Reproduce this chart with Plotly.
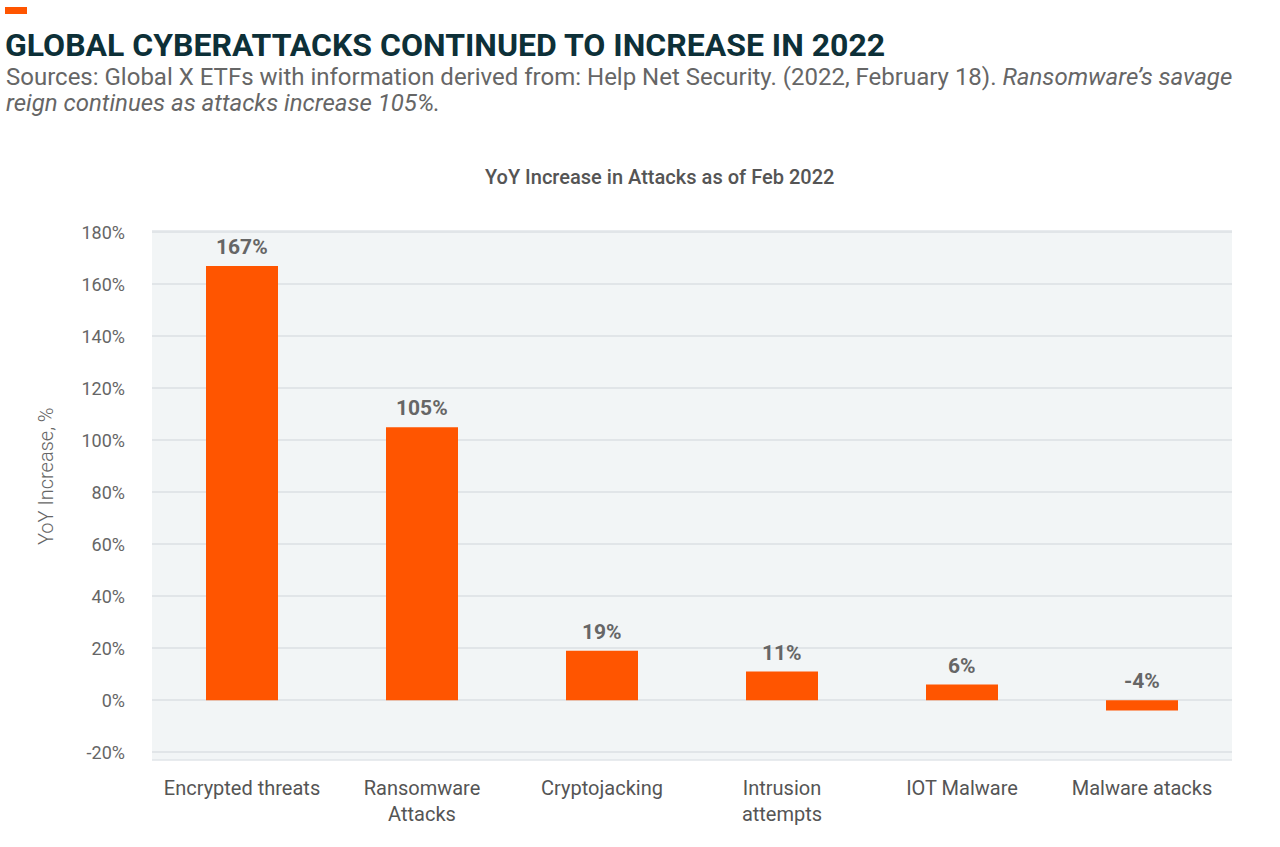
import plotly.graph_objects as go

categories = ["Encrypted threats", "Ransomware<br>Attacks", "Cryptojacking",
              "Intrusion<br>attempts", "IOT Malware", "Malware atacks"]
values = [167, 105, 19, 11, 6, -4]
tick_vals = [-20, 0, 20, 40, 60, 80, 100, 120, 140, 160, 180]
tick_text = [f"{v}%" for v in tick_vals]

ORANGE = "#FF5500"
GRAY = "#666666"
FONT = "Roboto, 'Open Sans', sans-serif"

W, H = 1280, 847
L, R, T, B = 152, 48, 231, 87
PW, PH = W - L - R, H - T - B


def px(x):
    return (x - L) / PW


def py(y):
    return (H - B - y) / PH


fig = go.Figure()
fig.add_trace(go.Bar(
    x=categories, y=values, marker=dict(color=ORANGE, line=dict(width=0)),
    width=0.4, hoverinfo="skip",
))

for c, v in zip(categories, values):
    fig.add_annotation(x=c, y=max(v, 0), text=f"<b>{v}%</b>", showarrow=False,
                       yanchor="bottom", yshift=5, xref="x", yref="y",
                       font=dict(family=FONT, size=21, color=GRAY))

fig.update_layout(
    width=W, height=H,
    paper_bgcolor="white", plot_bgcolor="#F2F5F6",
    margin=dict(l=L, r=R, t=T, b=B, autoexpand=False),
    showlegend=False,
    font=dict(family=FONT, color=GRAY),
    xaxis=dict(showgrid=False, ticks="", tickfont=dict(size=20, color="#555555"),
               showline=False, zeroline=False, ticklabelstandoff=14),
    yaxis=dict(range=[-23, 180.5], tickvals=tick_vals, ticktext=tick_text,
               tickfont=dict(size=18, color=GRAY), showgrid=True,
               gridcolor="#E1E5E8", gridwidth=1.5, zeroline=True,
               zerolinecolor="#E1E5E8", zerolinewidth=2, ticks="", ticklen=0,
               ticklabelstandoff=26),
)

# plot border lines top/bottom
fig.add_shape(type="line", xref="paper", yref="paper", x0=0, x1=1, y0=1, y1=1,
              line=dict(color="#E1E5E8", width=1.5))
fig.add_shape(type="line", xref="paper", yref="paper", x0=0, x1=1, y0=0, y1=0,
              line=dict(color="#E1E5E8", width=1.5))

# orange marker
fig.add_shape(type="rect", xref="paper", yref="paper",
              x0=px(5), x1=px(27), y0=py(14), y1=py(7),
              fillcolor=ORANGE, line=dict(width=0))

fig.add_annotation(xref="paper", yref="paper", x=px(3), y=py(45),
                   xanchor="left", yanchor="middle", showarrow=False,
                   text="<b>GLOBAL CYBERATTACKS CONTINUED TO INCREASE IN 2022</b>",
                   font=dict(family=FONT, size=32, color="#0D3038"))
fig.add_annotation(xref="paper", yref="paper", x=px(4), y=py(77),
                   xanchor="left", yanchor="middle", showarrow=False, align="left",
                   text="Sources: Global X ETFs with information derived from: Help Net Security. (2022, February 18). <i>Ransomware’s savage</i>",
                   font=dict(family=FONT, size=24, color=GRAY))
fig.add_annotation(xref="paper", yref="paper", x=px(4), y=py(103),
                   xanchor="left", yanchor="middle", showarrow=False, align="left",
                   text="<i>reign continues as attacks increase 105%.</i>",
                   font=dict(family=FONT, size=24, color=GRAY))
fig.add_annotation(xref="paper", yref="paper", x=px(659), y=py(177),
                   xanchor="center", yanchor="middle", showarrow=False,
                   text="YoY Increase in Attacks as of Feb 2022",
                   font=dict(family="Roboto Medium, Roboto, sans-serif", size=20, color="#555555"))
fig.add_annotation(xref="paper", yref="paper", x=px(46), y=py(476),
                   xanchor="center", yanchor="middle", showarrow=False, textangle=-90,
                   text="YoY Increase, %",
                   font=dict(family="Roboto Light, Roboto, sans-serif", size=20, color=GRAY))

fig.write_html("out.html", config={"displayModeBar": False},
               post_script="document.body.style.margin='0';document.body.style.overflow='hidden';")
